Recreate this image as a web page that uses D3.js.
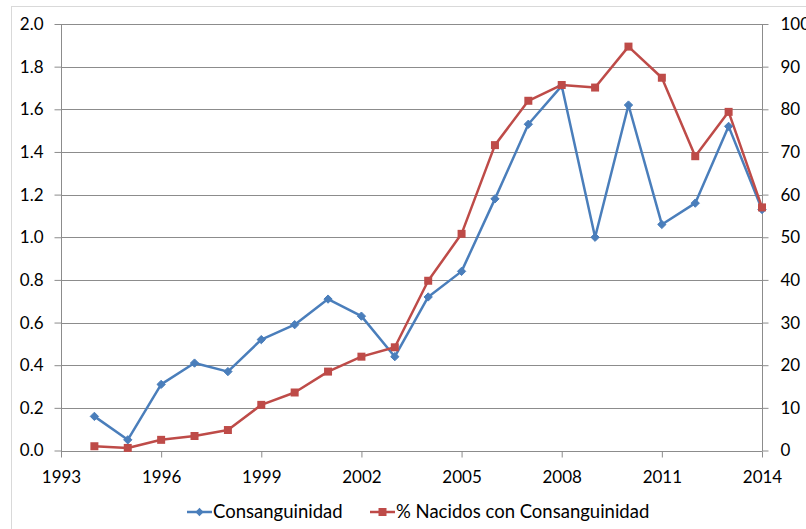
<!DOCTYPE html>
<html>
<head>
<meta charset="utf-8">
<script src="https://cdn.jsdelivr.net/npm/d3@7"></script>
<style>
  html, body { margin: 0; padding: 0; background: #fff; }
  svg { display: block; }
  text { font-family: Lato, "Open Sans", sans-serif; fill: #000; }
</style>
</head>
<body>
<svg id="chart" width="806" height="529"></svg>
<script>
// Years covered by the series
const years = [1994, 1995, 1996, 1997, 1998, 1999, 2000, 2001, 2002, 2003, 2004,
               2005, 2006, 2007, 2008, 2009, 2010, 2011, 2012, 2013, 2014];

// Consanguinidad (left axis)
const consanguinidad = [0.16, 0.05, 0.31, 0.41, 0.37, 0.52, 0.59, 0.71, 0.63, 0.44, 0.72,
                        0.84, 1.18, 1.53, 1.71, 1.00, 1.62, 1.06, 1.16, 1.52, 1.13];

// % Nacidos con Consanguinidad (right axis)
const pctNacidos = [1.0, 0.6, 2.5, 3.4, 4.8, 10.7, 13.6, 18.5, 22.0, 24.2, 39.8,
                    50.8, 71.6, 82.0, 85.7, 85.1, 94.7, 87.4, 69.0, 79.4, 57.0];

// Axis tick labels
const xTicks = [1993, 1996, 1999, 2002, 2005, 2008, 2011, 2014];
const leftTicks = [0, 0.2, 0.4, 0.6, 0.8, 1.0, 1.2, 1.4, 1.6, 1.8, 2.0];
const rightTicks = [0, 10, 20, 30, 40, 50, 60, 70, 80, 90, 100];

const seriesNames = ["Consanguinidad", "% Nacidos con Consanguinidad"];

const blue = "#4A7EBB";
const red = "#BE4B48";
const gridColor = "#8C8C8C";

const svg = d3.select("#chart");

// outer chart frame
svg.append("rect")
  .attr("x", 11.5).attr("y", 6.5)
  .attr("width", 900).attr("height", 600)
  .attr("fill", "none").attr("stroke", "#D9D9D9").attr("stroke-width", 1);

const plot = { left: 61, right: 762, top: 24, bottom: 450.5 };

const x = d3.scaleLinear().domain([1993, 2014]).range([plot.left, plot.right]);
const yL = d3.scaleLinear().domain([0, 2]).range([plot.bottom, plot.top]);
const yR = d3.scaleLinear().domain([0, 100]).range([plot.bottom, plot.top]);

// horizontal gridlines
svg.append("g")
  .selectAll("line")
  .data(leftTicks)
  .join("line")
  .attr("x1", plot.left).attr("x2", plot.right)
  .attr("y1", d => Math.round(yL(d)) + 0.5)
  .attr("y2", d => Math.round(yL(d)) + 0.5)
  .attr("stroke", gridColor).attr("stroke-width", 1);

// left axis
const leftAxis = svg.append("g")
  .attr("transform", `translate(${plot.left + 0.5},0)`)
  .call(d3.axisLeft(yL).tickValues(leftTicks).tickFormat(d3.format(".1f")).tickSize(7).tickPadding(11));

// right axis
const rightAxis = svg.append("g")
  .attr("transform", `translate(${plot.right + 0.5},0)`)
  .call(d3.axisRight(yR).tickValues(rightTicks).tickFormat(d3.format("d")).tickSize(6).tickPadding(12));

// bottom axis
const bottomAxis = svg.append("g")
  .attr("transform", `translate(0,${Math.round(plot.bottom) + 0.5})`)
  .call(d3.axisBottom(x).tickValues(xTicks).tickFormat(d3.format("d")).tickSize(6).tickPadding(13));

[leftAxis, rightAxis, bottomAxis].forEach(g => {
  g.select(".domain").attr("stroke", gridColor);
  g.selectAll(".tick line").attr("stroke", gridColor);
  g.selectAll(".tick text")
    .style("font-family", "Lato, 'Open Sans', sans-serif")
    .style("font-size", "17px")
    .attr("fill", "#000");
});
// y axis lines drawn full height without end caps
leftAxis.select(".domain").attr("d", `M0,${plot.top}V${Math.round(plot.bottom) + 0.5}`);
rightAxis.select(".domain").attr("d", `M0,${plot.top}V${Math.round(plot.bottom) + 0.5}`);
bottomAxis.select(".domain").attr("d", `M${plot.left},0H${plot.right}`);

// series lines
const lineL = d3.line().x((d, i) => x(years[i])).y(d => yL(d));
const lineR = d3.line().x((d, i) => x(years[i])).y(d => yR(d));

svg.append("path")
  .datum(consanguinidad)
  .attr("d", lineL)
  .attr("fill", "none").attr("stroke", blue).attr("stroke-width", 2.5)
  .attr("stroke-linejoin", "round");

svg.append("path")
  .datum(pctNacidos)
  .attr("d", lineR)
  .attr("fill", "none").attr("stroke", red).attr("stroke-width", 2.5)
  .attr("stroke-linejoin", "round");

// markers
const diamond = d3.symbol().type(d3.symbolDiamond2).size(44);
const square = d3.symbol().type(d3.symbolSquare).size(64);

svg.append("g")
  .selectAll("path")
  .data(consanguinidad)
  .join("path")
  .attr("transform", (d, i) => `translate(${x(years[i])},${yL(d)})`)
  .attr("d", diamond)
  .attr("fill", blue).attr("stroke", blue).attr("stroke-width", 1);

svg.append("g")
  .selectAll("path")
  .data(pctNacidos)
  .join("path")
  .attr("transform", (d, i) => `translate(${x(years[i])},${yR(d)})`)
  .attr("d", square)
  .attr("fill", red);

// legend
const legendY = 512;
const legend = svg.append("g");
const items = [
  { name: seriesNames[0], color: blue, sym: diamond, x0: 187 },
  { name: seriesNames[1], color: red, sym: square, x0: 370 }
];
items.forEach(it => {
  legend.append("line")
    .attr("x1", it.x0).attr("x2", it.x0 + 25)
    .attr("y1", legendY).attr("y2", legendY)
    .attr("stroke", it.color).attr("stroke-width", 2.5);
  legend.append("path")
    .attr("transform", `translate(${it.x0 + 12.5},${legendY})`)
    .attr("d", it.sym)
    .attr("fill", it.color);
  legend.append("text")
    .attr("x", it.x0 + 26).attr("y", legendY)
    .attr("dy", "0.35em")
    .style("font-size", "18.5px")
    .text(it.name);
});
</script>
</body>
</html>
